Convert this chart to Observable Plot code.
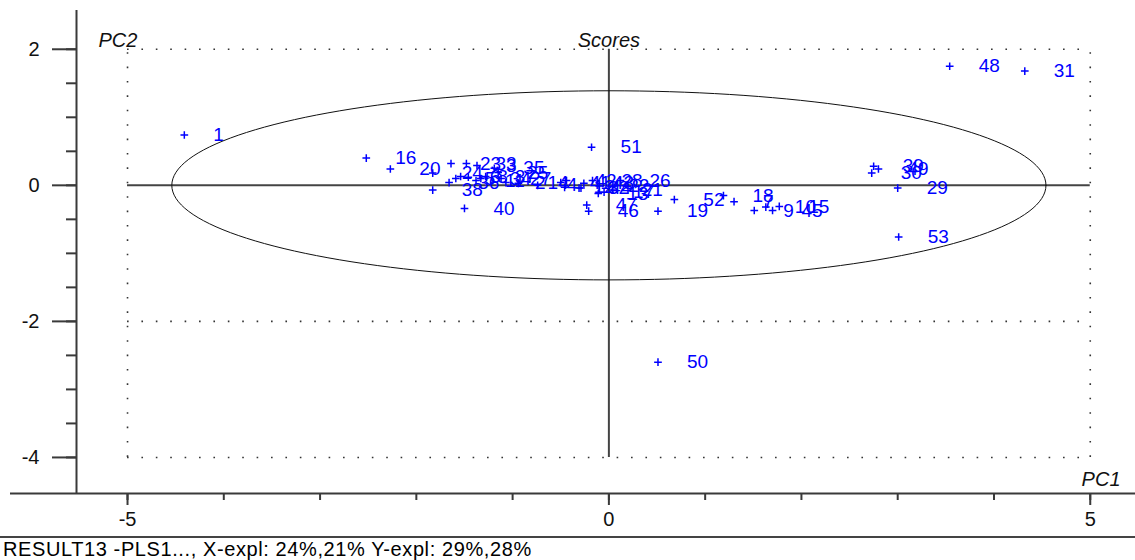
<!DOCTYPE html>
<html>
<head>
<meta charset="utf-8">
<script src="https://cdn.jsdelivr.net/npm/d3@7"></script>
<script src="https://cdn.jsdelivr.net/npm/@observablehq/plot@0.6"></script>
<style>
  body { margin: 0; background: #fff; font-family: "Liberation Sans", Arial, sans-serif; }
  #caption { border-top: 2px solid #444; font-size: 20px; letter-spacing: 0.6px; line-height: 22px; padding-left: 3px; color: #000; white-space: nowrap; }
</style>
</head>
<body>
<div id="chart"></div>
<div id="caption"></div>
<script>
// ---- data ----
const sampleLabels = ["1","2","3","4","5","6","7","8","9","10","11","12","13","14","15","16","17","18","19","20","21","22","23","24","25","26","27","28","29","30","31","32","33","34","35","36","37","38","39","40","41","42","43","44","45","46","47","48","49","50","51","52","53"];
const pc1 = [-4.41,-1.07,-1.37,-0.74,-1.59,-1.54,1.30,-1.46,1.51,1.63,-1.38,-0.46,-0.11,-0.94,1.77,-2.52,-0.05,1.19,0.51,-2.27,0.04,-0.10,-1.64,-1.83,-1.15,0.12,-1.12,-0.17,3.00,2.73,4.32,-0.31,-1.48,-1.33,-1.19,-1.66,-1.28,-1.83,2.75,-1.50,-0.50,-0.44,-0.26,-0.29,1.70,-0.21,-0.23,3.54,2.80,0.51,-0.18,0.68,3.01];
const pc2 = [0.74,0.04,0.29,0.00,0.10,0.13,-0.24,0.12,-0.37,-0.32,0.07,-0.03,-0.12,0.03,-0.31,0.40,-0.10,-0.15,-0.38,0.24,-0.07,-0.01,0.32,0.18,0.19,0.07,0.10,0.07,-0.04,0.18,1.68,-0.04,0.32,0.10,0.25,0.04,0.13,-0.07,0.28,-0.34,0.04,0.07,0.03,-0.04,-0.37,-0.38,-0.29,1.75,0.24,-2.60,0.56,-0.21,-0.76];
const xTicks = [-5, 0, 5];
const xMinorTicks = [-5,-4,-3,-2,-1,0,1,2,3,4,5];
const yTicks = [2, 0, -2, -4];
const yMinorTicks = [2,1.5,1,0.5,0,-0.5,-1,-1.5,-2,-2.5,-3,-3.5,-4];
const gridX = [-5, 5];
const gridY = [2, -2, -4];
const ellipseA = 4.54, ellipseB = 1.39; // Hotelling T² ellipse semi-axes
const titleText = "Scores", xName = "PC1", yName = "PC2";
const captionText = "RESULT13 -PLS1..., X-expl: 24%,21%  Y-expl: 29%,28%";

const points = sampleLabels.map((s, i) => ({label: s, x: pc1[i], y: pc2[i]}));
const ellipse = d3.range(0, 361, 2).map(t => ({x: ellipseA * Math.cos(t * Math.PI / 180), y: ellipseB * Math.sin(t * Math.PI / 180)}));

const blue = "#0000ff", axisColor = "#3a3a3a";

const chart = Plot.plot({
  width: 1135,
  height: 536,
  marginLeft: 76,
  marginRight: 0,
  marginTop: 10,
  marginBottom: 43,
  style: {fontFamily: "'Liberation Sans', Arial, sans-serif", background: "#fff", overflow: "visible"},
  x: {domain: [-5.53, 5.47]},
  y: {domain: [-4.53, 2.57]},
  marks: [
    // dotted grid box
    Plot.ruleY(gridY, {x1: -5, x2: 5, stroke: "#333", strokeWidth: 1.6, strokeDasharray: "1.6,12.8"}),
    Plot.ruleX(gridX, {y1: -4, y2: 2, stroke: "#333", strokeWidth: 1.6, strokeDasharray: "1.6,12.8"}),
    // crosshair
    Plot.ruleY([0], {x1: -5, x2: 5, stroke: "#444", strokeWidth: 2}),
    Plot.ruleX([0], {y1: -4, y2: 2, stroke: "#444", strokeWidth: 2}),
    // ellipse
    Plot.line(ellipse, {x: "x", y: "y", stroke: "#111", strokeWidth: 1}),
    // axes lines
    Plot.ruleX([-5.53], {stroke: axisColor, strokeWidth: 2}),
    Plot.ruleY([-4.53], {stroke: axisColor, strokeWidth: 2, insetLeft: -66}),
    // axes ticks
    Plot.axisY({ticks: yMinorTicks, tickSize: 10, text: null, label: null, stroke: axisColor, strokeWidth: 2}),
    Plot.axisY({ticks: yTicks, tickSize: 24, tickPadding: 13, fontSize: 20, stroke: axisColor, strokeWidth: 2, fill: "#111", label: null, tickFormat: d => String(d)}),
    Plot.axisX({ticks: xMinorTicks, tickSize: 7, text: null, label: null, stroke: axisColor, strokeWidth: 2}),
    Plot.axisX({ticks: xTicks, tickSize: 12, tickPadding: 6, fontSize: 20, stroke: axisColor, strokeWidth: 2, fill: "#111", label: null, tickFormat: d => String(d)}),
    // titles
    Plot.text([yName], {frameAnchor: "top-left", dx: 22, dy: 22, textAnchor: "start", fontSize: 20, fontStyle: "italic", fill: "#111"}),
    Plot.text([0], {x: d => d, frameAnchor: "top", dy: 22, text: () => titleText, fontSize: 20, fontStyle: "italic", fill: "#111"}),
    Plot.text([xName], {frameAnchor: "bottom-right", dx: -15, dy: -8, textAnchor: "end", fontSize: 20, fontStyle: "italic", fill: "#111"}),
    // scores
    Plot.dot(points, {x: "x", y: "y", symbol: "plus", r: 2.6, stroke: blue, strokeWidth: 1.5}),
    Plot.text(points, {x: "x", y: "y", text: "label", dx: 29, textAnchor: "start", fill: blue, fontSize: 19})
  ]
});
document.getElementById("chart").appendChild(chart);
document.getElementById("caption").textContent = captionText;
</script>
</body>
</html>
